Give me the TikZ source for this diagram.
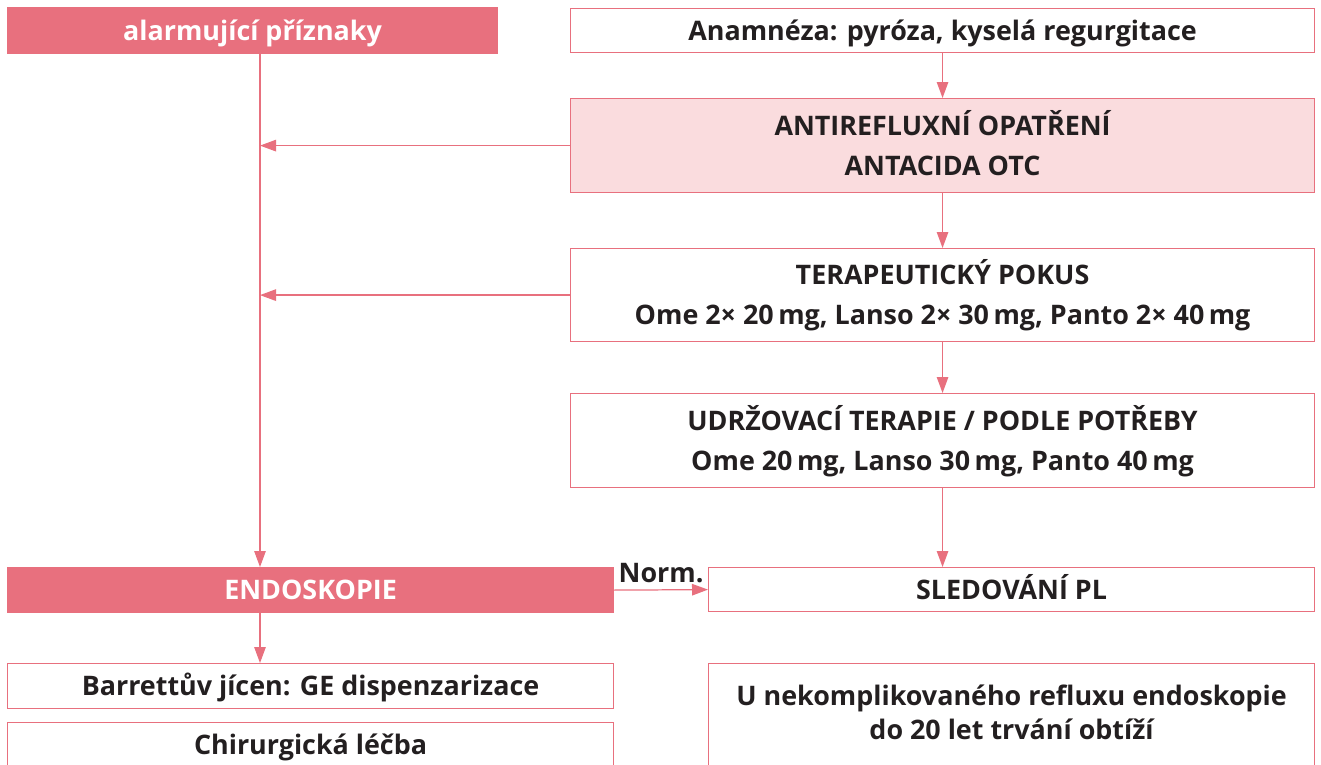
\documentclass[tikz,border=0pt]{standalone}
\usepackage{fontspec}
\setmainfont{Open Sans}
\usepackage{tikz}
\usetikzlibrary{arrows.meta,positioning}
\definecolor{AlarmRose}{HTML}{E8707E}
\definecolor{SoftRose}{HTML}{FADCDE}
\definecolor{InkDark}{HTML}{231F20}

\begin{document}
\begin{tikzpicture}[x=0.02cm,y=-0.02cm,
  box/.style={draw=AlarmRose,line width=0.7pt,anchor=north west,align=center,inner sep=0pt,
              text=InkDark,font=\fontsize{15.3}{22.8}\selectfont\bfseries,
              text height=0.38cm,text depth=0pt},
  twoline/.style={text height=1.18cm},
  alarmbox/.style={box,fill=AlarmRose,text=white},
  flow/.style={draw=AlarmRose,line width=0.7pt,-{Triangle[length=3.2mm,width=2.3mm]}}]
\useasboundingbox (0,0) rectangle (1321,764);
\clip (0,0) rectangle (1321,764);
% left column
\node[alarmbox,minimum width=9.8cm,minimum height=0.92cm] (alarm) at (7,7) {alarmující příznaky};
\node[alarmbox,minimum width=12.12cm,minimum height=0.9cm] (endo) at (7,567) {ENDOSKOPIE};
\node[box,minimum width=12.12cm,minimum height=0.9cm] (barrett) at (7,663) {Barrettův jícen: GE dispenzarizace};
\node[box,minimum width=12.12cm,text height=0.64cm,text depth=0.5cm] (chir) at (7,722) {Chirurgická léčba};
% right column
\node[box,minimum width=14.88cm,minimum height=0.88cm] (anam) at (570,8) {Anamnéza: pyróza, kyselá regurgitace};
\node[box,twoline,fill=SoftRose,minimum width=14.88cm,minimum height=1.88cm] (antiref) at (570,98)
  {ANTIREFLUXNÍ OPATŘENÍ\\ANTACIDA OTC};
\node[box,twoline,minimum width=14.88cm,minimum height=1.86cm] (pokus) at (570,248)
  {TERAPEUTICKÝ POKUS\\Ome 2× 20\,mg, Lanso 2× 30\,mg, Panto 2× 40\,mg};
\node[box,twoline,minimum width=14.88cm,minimum height=1.88cm] (udrz) at (570,393)
  {UDRŽOVACÍ TERAPIE / PODLE POTŘEBY\\Ome 20\,mg, Lanso 30\,mg, Panto 40\,mg};
\node[box,minimum width=12.12cm,minimum height=0.88cm] (sled) at (708,567) {SLEDOVÁNÍ PL};
\node[box,minimum width=12.12cm,text height=1.52cm,text depth=0.7cm,
      font=\fontsize{15.3}{19.4}\selectfont\bfseries] (nekompl) at (708,663)
  {U nekomplikovaného refluxu endoskopie\\do 20 let trvání obtíží};
% connectors
\coordinate (trunk) at (260,0);
\draw[flow] (trunk |- alarm.south) -- (trunk |- endo.north);
\draw[flow] (antiref.west) -- (antiref.west -| trunk);
\draw[flow] (pokus.west) -- (pokus.west -| trunk);
\draw[flow] (anam.south) -- (antiref.north);
\draw[flow] (antiref.south) -- (pokus.north);
\draw[flow] (pokus.south) -- (udrz.north);
\draw[flow] (udrz.south) -- (udrz.south |- sled.north);
\draw[flow] (endo.east) -- node[above,inner xsep=0pt,inner ysep=0.14cm,text depth=0pt,text=InkDark,
    font=\fontsize{15.3}{18}\selectfont\bfseries] (normlbl) {Norm.} (sled.west);
\draw[flow] (trunk |- endo.south) -- (trunk |- barrett.north);
\end{tikzpicture}
\end{document}
